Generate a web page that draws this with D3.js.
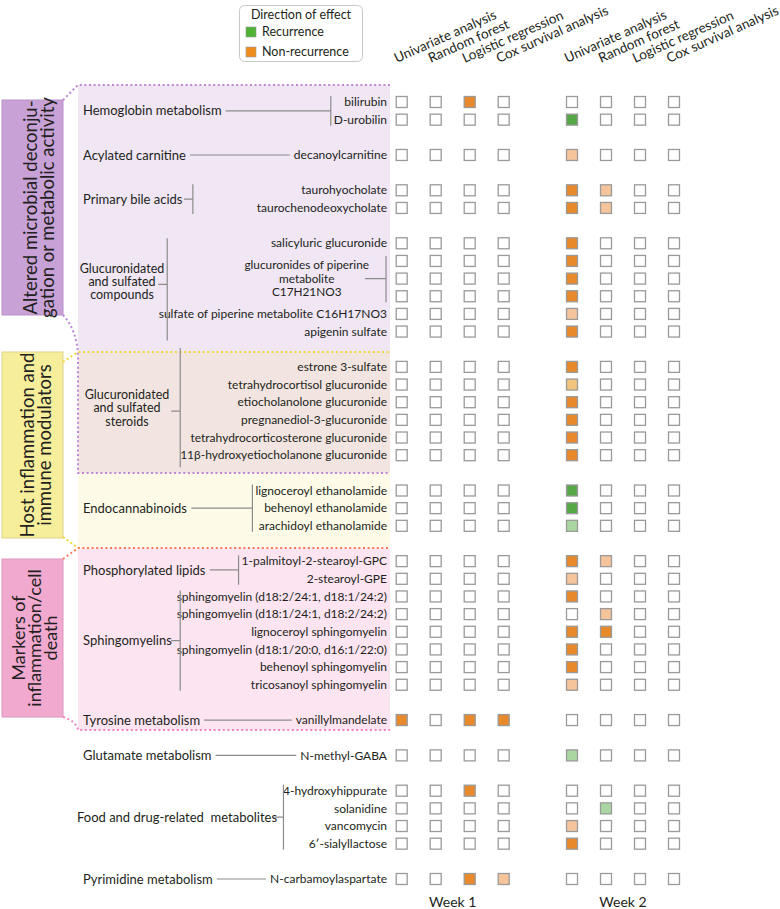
<!DOCTYPE html>
<html><head><meta charset="utf-8">
<script src="https://cdn.jsdelivr.net/npm/d3@7"></script>
<style>
body{margin:0;background:#fff}
svg{display:block}
text{font-family:Lato,"Noto Sans",sans-serif;fill:#231f20}
</style>
</head><body><svg id="c" width="780" height="909"></svg>
<script>
// ---------------- DATA ----------------
const methods = ["Univariate analysis","Random forest","Logistic regression","Cox survival analysis"];
const weeks = ["Week 1","Week 2"];

// row slots (null = empty spacer row)
const rowSlots = [
  "bilirubin","D-urobilin",null,
  "decanoylcarnitine",null,
  "taurohyocholate","taurochenodeoxycholate",null,
  "salicyluric glucuronide","C17H21NO3 glucuronide 1","C17H21NO3 glucuronide 2","C17H21NO3 glucuronide 3",
  "sulfate of piperine metabolite C16H17NO3","apigenin sulfate",null,
  "estrone 3-sulfate","tetrahydrocortisol glucuronide","etiocholanolone glucuronide",
  "pregnanediol-3-glucuronide","tetrahydrocorticosterone glucuronide","11β-hydroxyetiocholanone glucuronide",null,
  "lignoceroyl ethanolamide","behenoyl ethanolamide","arachidoyl ethanolamide",null,
  "1-palmitoyl-2-stearoyl-GPC","2-stearoyl-GPE",
  "sphingomyelin (d18:2/24:1, d18:1/24:2)","sphingomyelin (d18:1/24:1, d18:2/24:2)",
  "lignoceroyl sphingomyelin","sphingomyelin (d18:1/20:0, d16:1/22:0)",
  "behenoyl sphingomyelin","tricosanoyl sphingomyelin",null,
  "vanillylmandelate",null,
  "N-methyl-GABA",null,
  "4-hydroxyhippurate","solanidine","vancomycin","6′-sialyllactose",null,
  "N-carbamoylaspartate"
];

// effect codes per row (non-null rows in order), one char per method
// "-" none, "O" non-recurrence, "o" non-recurrence (weak), "y" non-recurrence (pale),
// "G" recurrence, "g" recurrence (weak)
const week1Values = [
  "--O-","----","----","----","----","----","----","----","----","----","----",
  "----","----","----","----","----","----",
  "----","----","----",
  "----","----","----","----","----","----","----","----",
  "O-OO","----","--O-","----","----","----","--Oo"
];
const week2Values = [
  "----","G---","o---","Oo--","Oo--","O---","O---","O---","O---","o---","O---",
  "O---","y---","O---","O---","O---","O---",
  "G---","G---","g---",
  "Oo--","o---","O---","-o--","OO--","O---","O---","o---",
  "----","g---","----","-g--","o---","O---","----"
];

// pooled rows labelled together
const pooledLabel = ["glucuronides of piperine","metabolite","C17H21NO3"];
const pooledRows = ["C17H21NO3 glucuronide 1","C17H21NO3 glucuronide 2","C17H21NO3 glucuronide 3"];

const groups = [
  {label:["Hemoglobin metabolism"], rows:["bilirubin","D-urobilin"]},
  {label:["Acylated carnitine"], rows:["decanoylcarnitine"]},
  {label:["Primary bile acids"], rows:["taurohyocholate","taurochenodeoxycholate"]},
  {label:["Glucuronidated","and sulfated","compounds"], rows:["salicyluric glucuronide","apigenin sulfate"]},
  {label:["Glucuronidated","and sulfated","steroids"], rows:["estrone 3-sulfate","11β-hydroxyetiocholanone glucuronide"]},
  {label:["Endocannabinoids"], rows:["lignoceroyl ethanolamide","arachidoyl ethanolamide"]},
  {label:["Phosphorylated lipids"], rows:["1-palmitoyl-2-stearoyl-GPC","2-stearoyl-GPE"]},
  {label:["Sphingomyelins"], rows:["sphingomyelin (d18:2/24:1, d18:1/24:2)","tricosanoyl sphingomyelin"]},
  {label:["Tyrosine metabolism"], rows:["vanillylmandelate"]},
  {label:["Glutamate metabolism"], rows:["N-methyl-GABA"]},
  {label:["Food and drug-related  metabolites"], rows:["4-hydroxyhippurate","6′-sialyllactose"]},
  {label:["Pyrimidine metabolism"], rows:["N-carbamoylaspartate"]}
];

const categories = [
  {lines:["Altered microbial deconju-","gation or metabolic activity"]},
  {lines:["Host inflammation and","immune modulators"]},
  {lines:["Markers of","inflammation/cell","death"]}
];

const legendTitle = "Direction of effect";
const legendItems = [{code:"L", label:"Recurrence"},{code:"K", label:"Non-recurrence"}];

// ---------------- STYLE / LAYOUT ----------------
const colors = {O:"#E8892B", o:"#F6C49B", y:"#F3C47E", G:"#56A846", g:"#AAD6A2", L:"#4FB236", K:"#EE8C1E"};
const svg = d3.select("#c");

const y = d3.scalePoint().domain(d3.range(rowSlots.length)).range([102, 879]);
const rowIndex = {};
rowSlots.forEach((n,i)=>{ if(n) rowIndex[n]=i; });
const yRow = n => y(rowIndex[n]);
const weekX = d3.scalePoint().domain(weeks).range([401.7, 572]);
const methodX = d3.scalePoint().domain(methods).range([0, 102]);

// panels
const panels = [
  {y0:85, y1:352, fill:"#F0E6F4"},
  {y0:352, y1:473, fill:"#F2E5E1"},
  {y0:473, y1:548, fill:"#FDFBE8"},
  {y0:548, y1:730, fill:"#FCE4F1"}
];
svg.selectAll("rect.panel").data(panels).join("rect")
  .attr("x",78).attr("width",312).attr("y",d=>d.y0).attr("height",d=>d.y1-d.y0).attr("fill",d=>d.fill);

// category boxes
const catBoxes = [
  {y0:100, y1:315, fill:"#C8A2D7", stroke:"#b78fc8", base:[37,54], size:18.5},
  {y0:352, y1:538, fill:"#F7EE9C", stroke:"#ddd38a", base:[34,51], size:18.5},
  {y0:559, y1:717, fill:"#F2A9D0", stroke:"#de95bd", base:[25,41,57], size:18}
];
categories.forEach((c,i)=>{
  const b = catBoxes[i];
  svg.append("rect").attr("x",2).attr("y",b.y0).attr("width",61).attr("height",b.y1-b.y0)
    .attr("fill",b.fill).attr("stroke",b.stroke).attr("stroke-width",1);
  const cy = (b.y0+b.y1)/2;
  c.lines.forEach((ln,j)=>{
    svg.append("text").attr("transform",`translate(${b.base[j]},${cy}) rotate(-90)`)
      .attr("text-anchor","middle").style("font-size",b.size+"px").text(ln);
  });
});

// dotted connectors
const dots = [
  {d:"M63,100 L78,85 H390", c:"#BF86D6"},
  {d:"M63,315 Q77,330 78,356 V473 H390", c:"#BF86D6"},
  {d:"M63,362 L78,352 H390", c:"#F0D838"},
  {d:"M63,537 L77,547", c:"#F0D838"},
  {d:"M63,559 L78,548 H390", c:"#F27C5C"},
  {d:"M63,717 Q76,721 78,730 H390", c:"#EE84C2"}
];
svg.selectAll("path.dot").data(dots).join("path")
  .attr("d",d=>d.d).attr("fill","none").attr("stroke",d=>d.c)
  .attr("stroke-width",2).attr("stroke-dasharray","2,2.6");

// metabolite labels
const textEnd = 387;
const labelG = svg.append("g");
const metabNodes = {};
rowSlots.forEach((n,i)=>{
  if(!n || pooledRows.includes(n)) return;
  metabNodes[n] = labelG.append("text").attr("x",textEnd).attr("y",y(i)).attr("dy","0.35em")
    .attr("text-anchor","end").style("font-size","12px").text(n);
});
const startOf = n => metabNodes[n].node().getBBox().x;

// pooled label with right bracket
{
  const ys = pooledRows.map(yRow);
  const cy = d3.mean(ys);
  const vx = 386;
  const t = labelG.append("text").attr("text-anchor","middle").style("font-size","11.8px");
  pooledLabel.forEach((ln,j)=>t.append("tspan").attr("y",cy+(j-1)*13.6).attr("dy","0.35em").text(ln));
  const w = d3.max(t.selectAll("tspan").nodes(), n=>n.getComputedTextLength());
  t.selectAll("tspan").attr("x", vx-17-w/2);
  svg.append("path").attr("d",`M${vx-21},${cy} H${vx} M${vx},${ys[0]-5} V${ys[2]+6}`)
    .attr("stroke","#8c8c8c").attr("stroke-width",1.2).attr("fill","none");
}

// group labels & brackets
const gLayout = [
  {x:83, mode:"right"},
  {x:83, mode:"single"},
  {x:83, mode:"left", gap:10},
  {x:122, mode:"left", gap:3, anchor:"middle", dyc:-6, e0:5, e1:9},
  {x:127, mode:"left", gap:11, anchor:"middle", dyc:-3, e0:19, e1:12},
  {x:83, mode:"right"},
  {x:83, mode:"right"},
  {x:83, mode:"left", gap:8},
  {x:83, mode:"single"},
  {x:83, mode:"single"},
  {x:77, mode:"left", gap:6},
  {x:83, mode:"single"}
];
const lineStyle = p => p.attr("stroke","#8c8c8c").attr("stroke-width",1.2).attr("fill","none");
groups.forEach((g,i)=>{
  const L = gLayout[i];
  const ys = g.rows.map(yRow);
  const y0 = d3.min(ys), y1 = d3.max(ys);
  const cy = (y0+y1)/2;
  const n = g.label.length;
  const t = svg.append("text").attr("text-anchor",L.anchor||"start")
    .style("font-size", n>1 ? "12.5px" : "13px").style("white-space","pre");
  g.label.forEach((ln,j)=>t.append("tspan").attr("x",L.x)
    .attr("y",cy+(L.dyc||0)+(j-(n-1)/2)*13.2).attr("dy","0.35em").text(ln));
  const bb = t.node().getBBox();
  const right = bb.x+bb.width;
  if(L.mode==="single"){
    lineStyle(svg.append("path").attr("d",`M${right+4},${cy} H${startOf(g.rows[0])-4}`));
  } else if(L.mode==="right"){
    const members = rowSlots.filter((r,k)=>r && y(k)>=y0 && y(k)<=y1);
    const vx = d3.min(members, startOf) - 3;
    lineStyle(svg.append("path").attr("d",`M${right+4},${cy} H${vx} M${vx},${y0-6} V${y1+6}`));
  } else {
    const vx = right + L.gap;
    const e0 = L.e0 ?? 6, e1 = L.e1 ?? 6;
    lineStyle(svg.append("path").attr("d",`M${vx-9},${cy+(L.dyc||0)+ (n>1?3:0)} H${vx} M${vx},${y0-e0} V${y1+e1}`));
  }
});

// headers
weeks.forEach(w=>{
  methods.forEach(m=>{
    svg.append("text").attr("transform",`translate(${weekX(w)+methodX(m)-5},63) rotate(-24)`)
      .style("font-size","13.5px").text(m);
  });
  svg.append("text").attr("x",weekX(w)+51).attr("y",907).attr("text-anchor","middle")
    .style("font-size","14px").text(w);
});

// cells
const cells = [];
rowSlots.filter(r=>r).forEach((r,i)=>{
  [week1Values, week2Values].forEach((vals,wi)=>{
    methods.forEach((m,mi)=>{
      cells.push({row:r, week:weeks[wi], method:m, code:vals[i][mi]});
    });
  });
});
const sz = 11;
svg.append("g").selectAll("rect").data(cells).join("rect")
  .attr("x",d=>weekX(d.week)+methodX(d.method)-sz/2)
  .attr("y",d=>yRow(d.row)-sz/2)
  .attr("width",sz).attr("height",sz)
  .attr("fill",d=>d.code==="-"?"#fff":colors[d.code])
  .attr("stroke","#9a9a9a").attr("stroke-width",1.3);

// legend
const lg = svg.append("g");
lg.append("rect").attr("x",239.5).attr("y",5.5).attr("width",123).attr("height",56).attr("rx",5)
  .attr("fill","#fff").attr("stroke","#c8c8c8");
lg.append("text").attr("x",301).attr("y",19).attr("text-anchor","middle").style("font-size","12.5px").text(legendTitle);
legendItems.forEach((it,i)=>{
  lg.append("rect").attr("x",246).attr("y",27+i*20).attr("width",10).attr("height",10)
    .attr("fill",colors[it.code]).attr("stroke","#999").attr("stroke-width",0.6);
  lg.append("text").attr("x",262).attr("y",32+i*20).attr("dy","0.35em").style("font-size","12.5px").text(it.label);
});
</script>
</body></html>
